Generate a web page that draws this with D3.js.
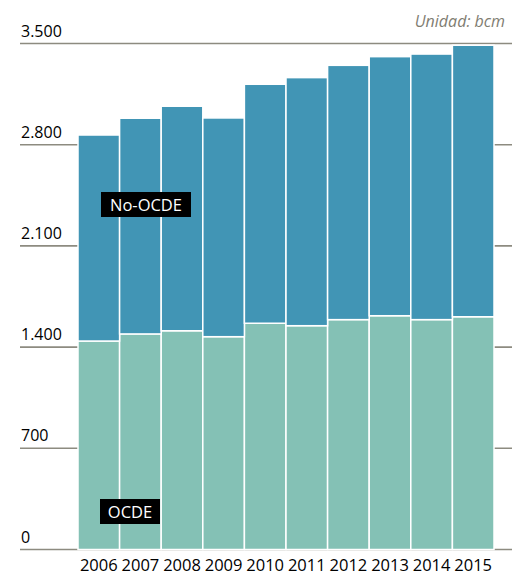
<!DOCTYPE html>
<html><head><meta charset="utf-8">
<script src="https://cdn.jsdelivr.net/npm/d3@7"></script>
<style>
html,body{margin:0;padding:0;background:#fff;}
svg text{font-family:"Open Sans","Noto Sans",sans-serif;}
</style></head>
<body><svg id="c" width="512" height="577"></svg>
<script>
const years = ["2006","2007","2008","2009","2010","2011","2012","2013","2014","2015"];
const ocde = [1442,1491,1513,1472,1565,1548,1590,1617,1590,1610];
const total = [2867,2983,3066,2985,3218,3264,3349,3409,3427,3488];
const noOcde = total.map((t,i)=>t-ocde[i]);
const yTicks = [0,700,1400,2100,2800,3500];
const tickLabels = ["0","700","1.400","2.100","2.800","3.500"];

const svg = d3.select("#c");
const y = d3.scaleLinear().domain([0,3500]).range([549.5,43.5]);
const x = d3.scaleBand().domain(years).range([78,494]).padding(0);

// gridlines
svg.append("g").selectAll("line").data(yTicks).join("line")
  .attr("x1",20).attr("x2",512)
  .attr("y1",d=>y(d)).attr("y2",d=>y(d))
  .attr("stroke","#8d8b80").attr("stroke-width",1.6);
svg.append("g").selectAll("text").data(yTicks).join("text")
  .attr("x",21).attr("y",d=>y(d)-7)
  .attr("font-size",16).attr("fill","#000")
  .text((d,i)=>tickLabels[i]);

const data = years.map((yr,i)=>({year:yr,OCDE:ocde[i],NoOCDE:noOcde[i]}));
const stack = d3.stack().keys(["OCDE","NoOCDE"])(data);
const colors = {OCDE:"#84c1b5",NoOCDE:"#4195b5"};
svg.append("g").selectAll("g").data(stack).join("g")
  .attr("fill",d=>colors[d.key])
  .selectAll("rect").data(d=>d).join("rect")
  .attr("x",d=>x(d.data.year)).attr("width",x.bandwidth())
  .attr("y",d=>y(d[1])).attr("height",d=>y(d[0])-y(d[1]))
  .attr("stroke","#fff").attr("stroke-width",1.5);

// x axis labels
svg.append("g").selectAll("text").data(years).join("text")
  .attr("x",d=>x(d)+x.bandwidth()/2).attr("y",571)
  .attr("text-anchor","middle").attr("font-size",16.5).attr("fill","#000")
  .text(d=>d);

// labels
function tag(label,x0,y0,w,h){
  svg.append("rect").attr("x",x0).attr("y",y0).attr("width",w).attr("height",h).attr("fill","#000");
  svg.append("text").attr("x",x0+w/2).attr("y",y0+h/2+6).attr("text-anchor","middle")
    .attr("font-size",16.5).attr("fill","#fff").text(label);
}
tag("No-OCDE",101,192,90,25);
tag("OCDE",100,499,60,25);

svg.append("text").attr("x",505).attr("y",27).attr("text-anchor","end")
  .attr("font-size",16).attr("font-style","italic").attr("fill","#7f7d72")
  .text("Unidad: bcm");
</script></body></html>
